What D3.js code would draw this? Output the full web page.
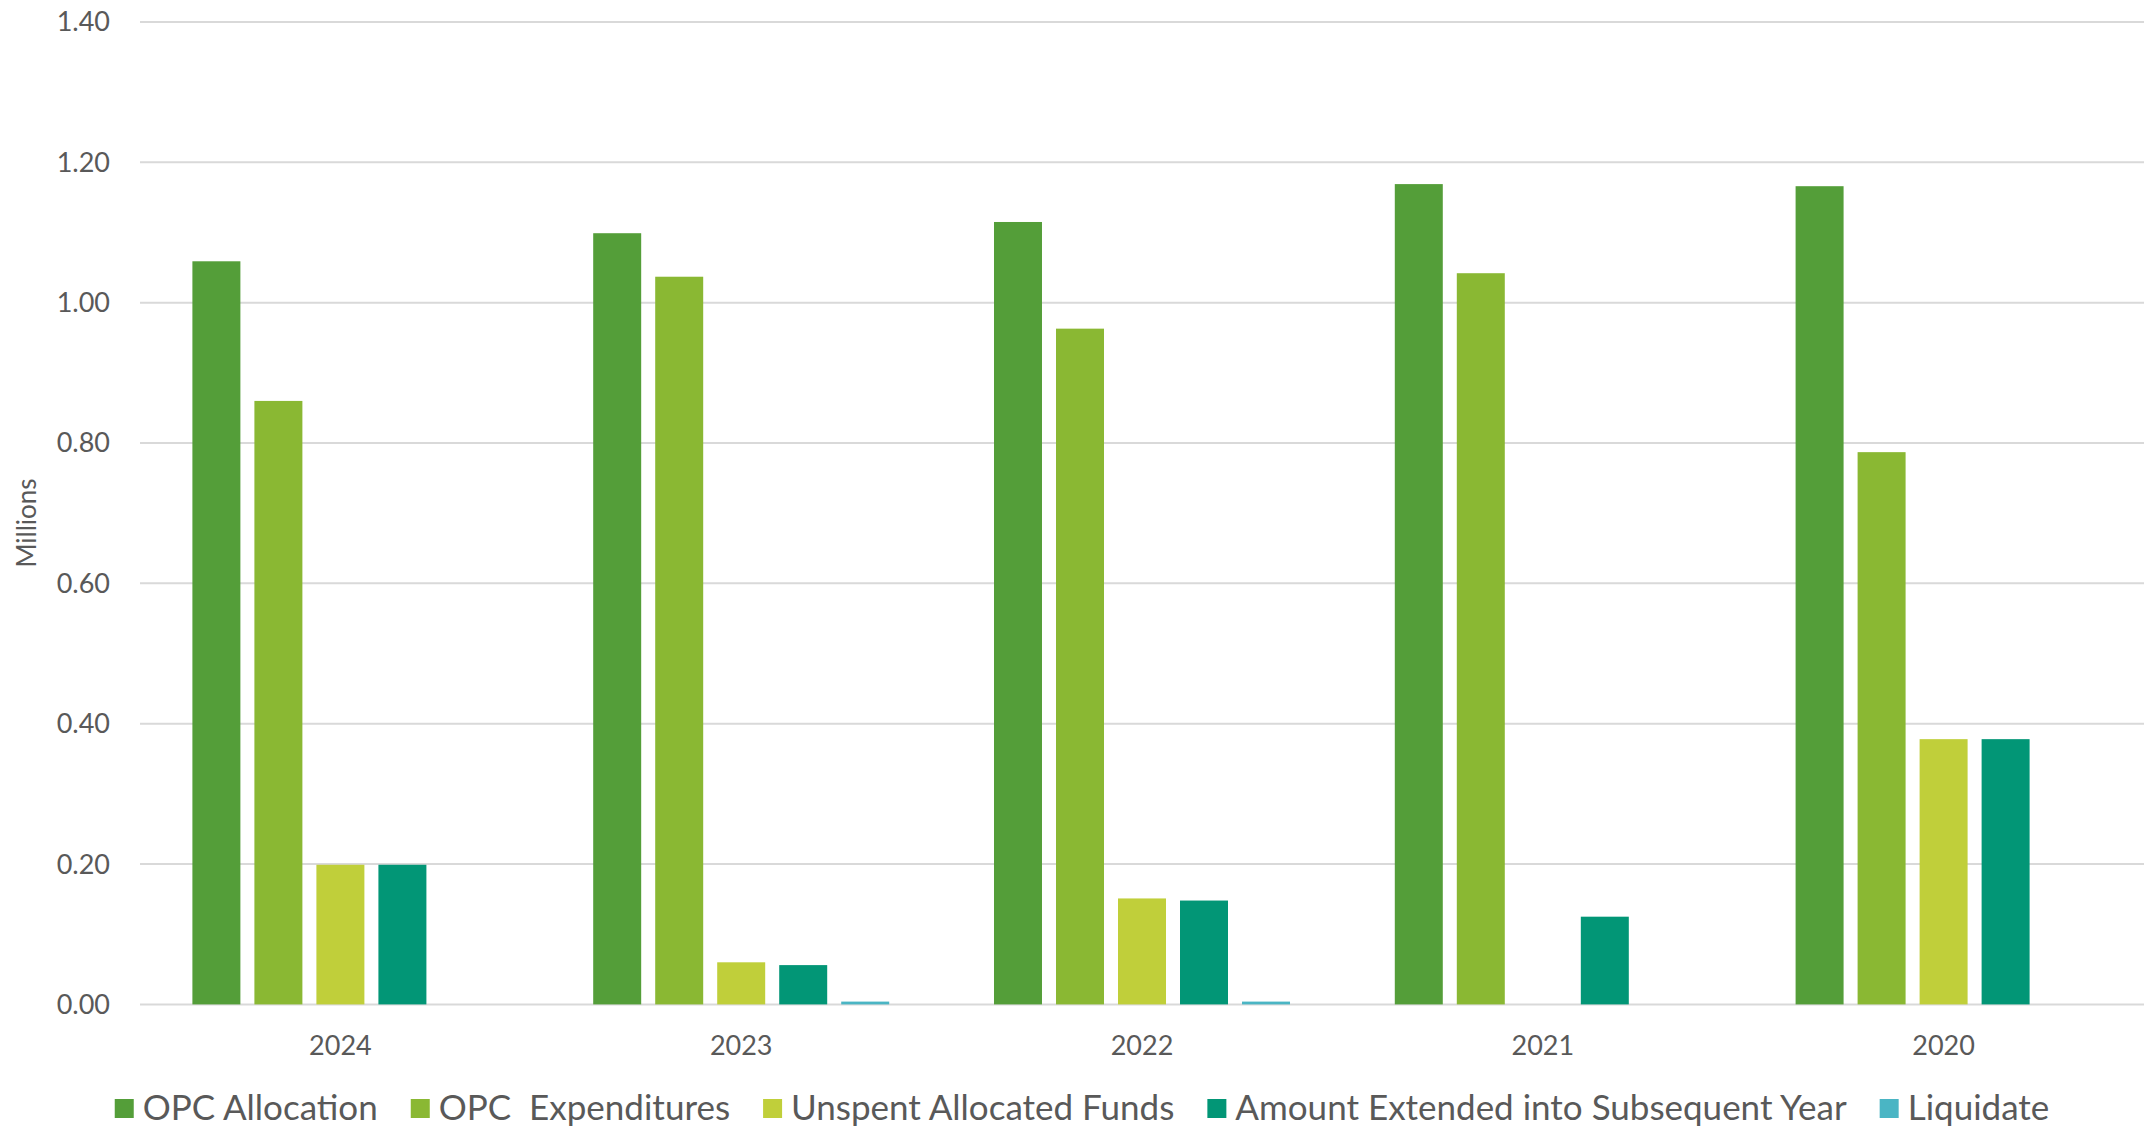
<!DOCTYPE html>
<meta charset="utf-8">
<style>
  body { margin: 0; background: #fff; }
  text { font-family: "Lato", "Open Sans", sans-serif; fill: #595959; }
</style>
<svg width="2144" height="1130" id="chart"></svg>
<script src="https://d3js.org/d3.v7.min.js"></script>
<script>

var years = ["2024", "2023", "2022", "2021", "2020"]
var seriesNames = ["OPC Allocation", "OPC  Expenditures", "Unspent Allocated Funds", "Amount Extended into Subsequent Year", "Liquidate"]
var colors = ["#549E39", "#8AB833", "#C0CF3A", "#029676", "#4AB5C4"]

// millions, by year in the order above
var allocation   = [1.059, 1.099, 1.115, 1.169, 1.166]
var expenditures = [0.860, 1.037, 0.963, 1.042, 0.787]
var unspent      = [0.199, 0.060, 0.151, 0.000, 0.378]
var extended     = [0.199, 0.056, 0.148, 0.125, 0.378]
var liquidate    = [0.000, 0.004, 0.004, 0.000, 0.000]

var yTicks = [0, 0.2, 0.4, 0.6, 0.8, 1.0, 1.2, 1.4]

var allSeries = [allocation, expenditures, unspent, extended, liquidate]

var data = years.map(function(yr, i) {
  return { year: yr, values: seriesNames.map(function(k, j) { return { key: k, value: allSeries[j][i] } }) }
})

var svg = d3.select("#chart")

var plotLeft = 140, plotRight = 2144, plotTop = 22, plotBottom = 1004.4

var x0 = d3.scaleBand().domain(years).range([plotLeft, plotRight]).padding(0)
var x1 = d3.scaleBand().domain(seriesNames).range([0, x0.bandwidth()])
  .paddingInner(0.226).paddingOuter(0.845)
var y = d3.scaleLinear().domain([0, 1.4]).range([plotBottom, plotTop])
var color = d3.scaleOrdinal().domain(seriesNames).range(colors)

// gridlines
svg.append("g")
  .selectAll("line")
  .data(yTicks)
  .enter().append("line")
  .attr("x1", plotLeft).attr("x2", plotRight)
  .attr("y1", d => y(d)).attr("y2", d => y(d))
  .attr("stroke", "#d9d9d9")
  .attr("stroke-width", 2)

// y tick labels
svg.append("g")
  .selectAll("text")
  .data(yTicks)
  .enter().append("text")
  .attr("x", 110)
  .attr("y", d => y(d))
  .attr("dy", "0.35em")
  .attr("text-anchor", "end")
  .style("font-size", "27px")
  .text(d => d3.format(".2f")(d))

// bars
var groups = svg.append("g")
  .selectAll("g")
  .data(data)
  .enter().append("g")
  .attr("transform", d => "translate(" + x0(d.year) + ",0)")

groups.selectAll("rect")
  .data(d => d.values)
  .enter().append("rect")
  .attr("x", d => x1(d.key))
  .attr("y", d => y(d.value))
  .attr("width", x1.bandwidth())
  .attr("height", d => y(0) - y(d.value))
  .attr("fill", d => color(d.key))

// x labels
svg.append("g")
  .selectAll("text")
  .data(years)
  .enter().append("text")
  .attr("x", d => x0(d) + x0.bandwidth() / 2)
  .attr("y", 1046)
  .attr("dy", "0.35em")
  .attr("text-anchor", "middle")
  .style("font-size", "27px")
  .text(d => d)

// axis title
svg.append("text")
  .attr("transform", "translate(27,523) rotate(-90)")
  .attr("dy", "0.35em")
  .attr("text-anchor", "middle")
  .style("font-size", "26px")
  .text("Millions")

// legend
var leg = svg.append("g")
var lx = 0
seriesNames.forEach(function(k) {
  var g = leg.append("g").attr("transform", "translate(" + lx + ",0)")
  g.append("rect").attr("x", 0).attr("y", -9).attr("width", 19).attr("height", 19).attr("fill", color(k))
  var t = g.append("text").attr("x", 28).attr("y", 0).attr("dy", "0.35em")
    .style("font-size", "35px").style("white-space", "pre").attr("xml:space", "preserve").text(k)
  lx += 28 + t.node().getComputedTextLength() + 33
})
var legW = lx - 33
leg.attr("transform", "translate(" + (1082 - legW / 2) + ",1108)")

</script>
